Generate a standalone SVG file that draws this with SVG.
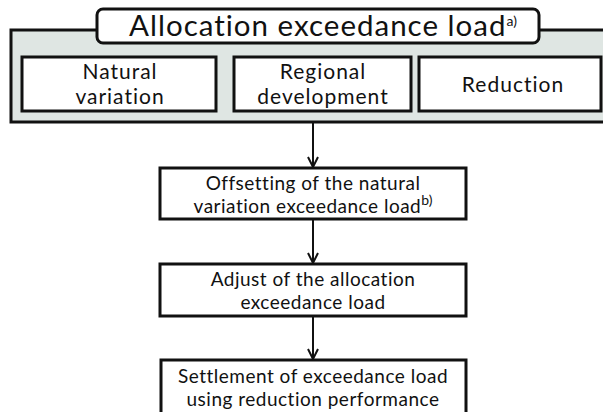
<svg xmlns="http://www.w3.org/2000/svg" width="603" height="412" viewBox="0 0 603 412">
<defs>
<style>
.box{fill:#fff;stroke:#111;stroke-width:3}
.panel{fill:#dfe6e3;stroke:#111;stroke-width:3}
text{font-family:Lato,"Noto Sans",sans-serif;fill:#111;text-anchor:middle;font-variant-ligatures:none;font-feature-settings:"liga" 0}
.t{font-size:29.5px;letter-spacing:1px}
.m{font-size:21px;letter-spacing:1px}
.s{font-size:19px;letter-spacing:0.5px}
.sup{font-size:14px;letter-spacing:0}
.conn{stroke:#111;stroke-width:2;fill:none}
</style>
<marker id="arr" viewBox="0 0 12 12" refX="11" refY="6" markerWidth="12" markerHeight="12" markerUnits="userSpaceOnUse" orient="auto">
<path d="M1,1 L11,6 L1,11" fill="none" stroke="#111" stroke-width="2"/>
</marker>
</defs>
<g id="panel">
<rect class="panel" x="11" y="30" width="600" height="92"/>
</g>
<g id="title">
<rect class="box" x="97" y="9" width="442" height="34" rx="6"/>
<text class="t" x="323" y="36">Allocation exceedance load<tspan class="sup" dy="-10">a)</tspan></text>
</g>
<g id="natural">
<rect class="box" x="22" y="57" width="194" height="54"/>
<text class="m" x="120" y="79">Natural</text>
<text class="m" x="120" y="104">variation</text>
</g>
<g id="regional">
<rect class="box" x="234" y="57" width="177" height="54"/>
<text class="m" x="323" y="79">Regional</text>
<text class="m" x="323" y="104">development</text>
</g>
<g id="reduction">
<rect class="box" x="419" y="57" width="182" height="54"/>
<text class="m" x="513" y="92">Reduction</text>
</g>
<g id="offsetting">
<rect class="box" x="160" y="168" width="306" height="51"/>
<text class="s" x="313" y="190">Offsetting of the natural</text>
<text class="s" x="313" y="213">variation exceedance load<tspan class="sup" dy="-8">b)</tspan></text>
</g>
<g id="adjust">
<rect class="box" x="160" y="264" width="306" height="52"/>
<text class="s" x="313" y="286">Adjust of the allocation</text>
<text class="s" x="313" y="309">exceedance load</text>
</g>
<g id="settlement">
<rect class="box" x="161" y="360" width="305" height="60"/>
<text class="s" x="313" y="383">Settlement of exceedance load</text>
<text class="s" x="313" y="406">using reduction performance</text>
</g>
<g id="connectors">
<line class="conn" x1="313" y1="123" x2="313" y2="167" marker-end="url(#arr)"/>
<line class="conn" x1="313" y1="220" x2="313" y2="263" marker-end="url(#arr)"/>
<line class="conn" x1="313" y1="317" x2="313" y2="359" marker-end="url(#arr)"/>
</g>
</svg>
